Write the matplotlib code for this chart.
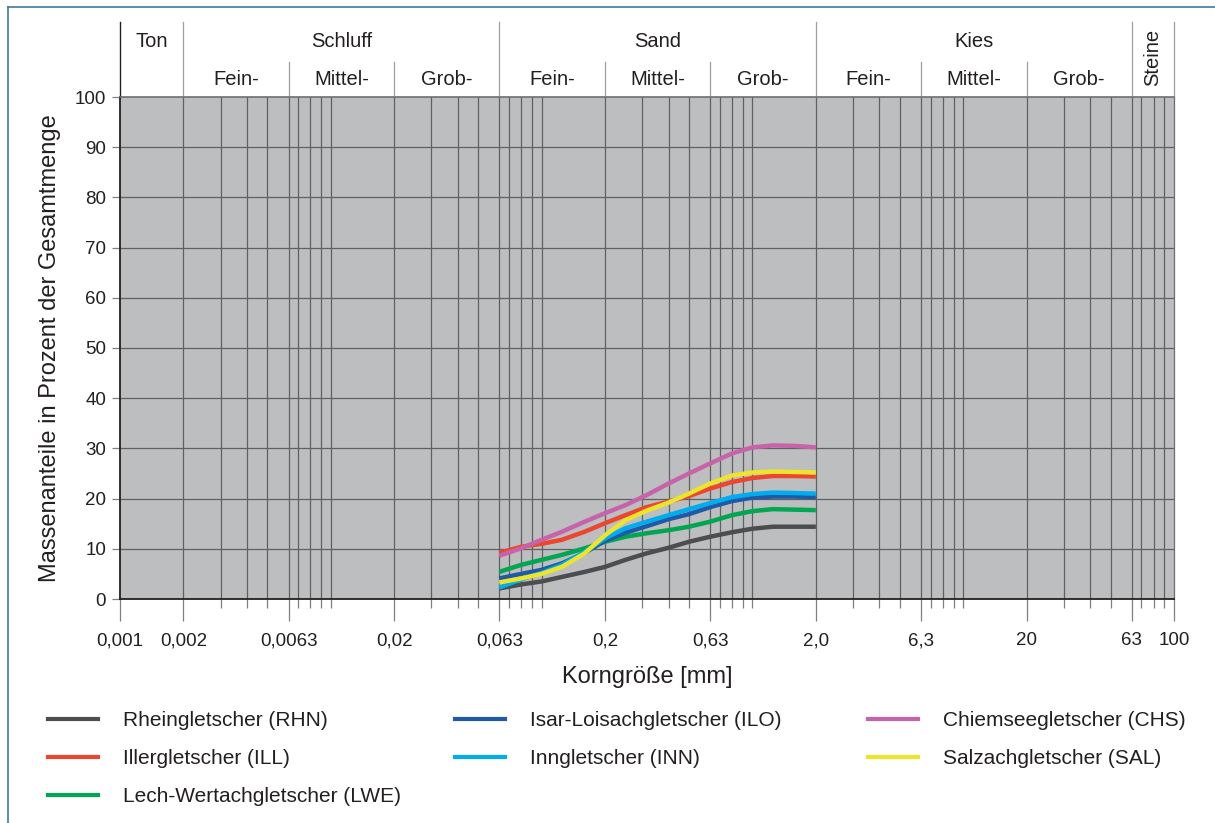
import matplotlib
matplotlib.use('Agg')
import matplotlib.pyplot as plt
from matplotlib.lines import Line2D
import matplotlib.transforms as mtransforms

plt.rcParams['font.family'] = ['Liberation Sans', 'DejaVu Sans']

# Sieve sizes [mm] and cumulative mass fractions [%]
korn = [0.063, 0.08, 0.1, 0.125, 0.16, 0.2, 0.25, 0.315, 0.4, 0.5, 0.63, 0.8, 1.0, 1.25, 1.6, 2.0]

rhn = [2.1, 2.9, 3.5, 4.4, 5.4, 6.4, 7.8, 9.1, 10.2, 11.4, 12.4, 13.3, 14.0, 14.4, 14.4, 14.4]
ill = [9.2, 10.4, 11.0, 11.8, 13.4, 15.1, 16.7, 18.3, 19.4, 20.5, 22.0, 23.3, 24.1, 24.5, 24.5, 24.4]
lwe = [5.4, 6.8, 7.8, 8.8, 10.1, 11.4, 12.4, 13.1, 13.7, 14.4, 15.4, 16.7, 17.5, 17.9, 17.8, 17.7]
ilo = [4.1, 5.0, 5.8, 7.1, 9.2, 11.6, 13.2, 14.5, 15.9, 16.9, 18.3, 19.5, 20.2, 20.4, 20.4, 20.3]
inn = [2.3, 3.9, 5.2, 6.8, 9.4, 12.1, 14.1, 15.4, 16.7, 17.9, 19.1, 20.3, 20.9, 21.2, 21.1, 21.0]
chs = [8.6, 10.1, 11.8, 13.4, 15.4, 17.1, 18.7, 20.7, 23.0, 25.0, 27.0, 29.0, 30.2, 30.6, 30.5, 30.2]
sal = [3.3, 4.1, 5.0, 6.4, 9.1, 12.7, 15.7, 17.6, 19.2, 21.0, 23.0, 24.6, 25.2, 25.4, 25.3, 25.2]

namen = ['Rheingletscher (RHN)', 'Illergletscher (ILL)', 'Lech-Wertachgletscher (LWE)',
         'Isar-Loisachgletscher (ILO)', 'Inngletscher (INN)',
         'Chiemseegletscher (CHS)', 'Salzachgletscher (SAL)']
farben = ['#4d4d4f', '#ec4630', '#00a651', '#1f5aa6', '#00aeef', '#c863aa', '#ece52c']
reihen = [rhn, ill, lwe, ilo, inn, chs, sal]
# drawing order (later on top)
zeichen_folge = [0, 2, 3, 4, 1, 5, 6]

# x axis labels and grid
x_major = [0.001, 0.002, 0.0063, 0.02, 0.063, 0.2, 0.63, 2.0, 6.3, 20, 63, 100]
x_major_labels = ['0,001', '0,002', '0,0063', '0,02', '0,063', '0,2', '0,63', '2,0', '6,3', '20', '63', '100']
x_minor = [0.003, 0.004, 0.005, 0.007, 0.008, 0.009, 0.01,
           0.03, 0.04, 0.05, 0.07, 0.08, 0.09, 0.1,
           0.3, 0.4, 0.5, 0.7, 0.8, 0.9, 1.0,
           3, 4, 5, 7, 8, 9, 10,
           30, 40, 50, 70, 80, 90]

# soil classes (header)
haupt_grenzen = [0.001, 0.002, 0.063, 2.0, 63, 100]
haupt_namen = ['Ton', 'Schluff', 'Sand', 'Kies', 'Steine']
unter_grenzen = [0.0063, 0.02, 0.2, 0.63, 6.3, 20]
unter_namen = ['Fein-', 'Mittel-', 'Grob-']

fig = plt.figure(figsize=(12.15, 8.23), dpi=100)
ax = fig.add_axes([120 / 1215, 224 / 823, 1054 / 1215, 502 / 823])
ax.set_facecolor('#bcbec0')
ax.set_xscale('log')
ax.set_xlim(0.001, 100)
ax.set_ylim(0, 100)

grid_col = '#5f6062'
for xv in x_major[1:-1] + x_minor:
    ax.axvline(xv, color=grid_col, lw=0.9, zorder=1)
for yv in range(10, 100, 10):
    ax.axhline(yv, color=grid_col, lw=0.9, zorder=1)

for i in zeichen_folge:
    ax.plot(korn, reihen[i], color=farben[i], lw=3.2, zorder=3,
            solid_capstyle='butt', solid_joinstyle='round')

ax.set_xticks(x_major)
ax.set_xticklabels(x_major_labels)
ax.set_xticks(x_minor, minor=True)
ax.xaxis.set_minor_formatter(plt.NullFormatter())
ax.tick_params(axis='x', which='major', length=16, width=0.9, color='#808080',
               labelsize=13.5, pad=8, labelcolor='#231f20')
ax.tick_params(axis='x', which='minor', length=6.5, width=0.9, color='#808080')
ax.set_yticks(range(0, 101, 10))
ax.tick_params(axis='y', length=6, width=0.9, color='#808080', labelsize=13.5,
               pad=4, labelcolor='#231f20')

for s in ['left', 'bottom']:
    ax.spines[s].set_color('#231f20')
    ax.spines[s].set_linewidth(1.3)
ax.spines['top'].set_color('#6d6e71')
ax.spines['top'].set_linewidth(1.2)
ax.spines['right'].set_color('#6d6e71')
ax.spines['right'].set_linewidth(0.9)

ax.set_xlabel('Korngröße [mm]', fontsize=17, color='#231f20', labelpad=12)
ax.set_ylabel('Massenanteile in Prozent der Gesamtmenge', fontsize=17,
              color='#231f20', labelpad=10)

# header with soil class names
trans = mtransforms.blended_transform_factory(ax.transData, ax.transAxes)
for xv in haupt_grenzen:
    c = '#231f20' if xv == 0.001 else '#9d9fa2'
    ax.plot([xv, xv], [1.0, 1.149], color=c, lw=1.0 if xv == 0.001 else 0.9,
            transform=trans, clip_on=False)
for xv in unter_grenzen:
    ax.plot([xv, xv], [1.0, 1.07], color='#9d9fa2', lw=0.9,
            transform=trans, clip_on=False)

for k in range(len(haupt_namen)):
    a, b = haupt_grenzen[k], haupt_grenzen[k + 1]
    xm = (a * b) ** 0.5
    if haupt_namen[k] == 'Steine':
        ax.text(xm, 1.078, haupt_namen[k], rotation=90, ha='center', va='center',
                fontsize=14.5, color='#231f20', transform=trans)
    else:
        ax.text(xm, 1.111, haupt_namen[k], ha='center', va='center',
                fontsize=14.5, color='#231f20', transform=trans)

for gruppe in [(0.002, 0.0063, 0.02, 0.063), (0.063, 0.2, 0.63, 2.0), (2.0, 6.3, 20, 63)]:
    for k in range(3):
        xm = (gruppe[k] * gruppe[k + 1]) ** 0.5
        ax.text(xm, 1.034, unter_namen[k], ha='center', va='center',
                fontsize=14.5, color='#231f20', transform=trans)

# legend in three columns
spalten = [[0, 1, 2], [3, 4], [5, 6]]
spalten_x = [48, 455, 868]
for sp, xs in zip(spalten, spalten_x):
    handles = [Line2D([], [], color=farben[i], lw=3) for i in sp]
    labels = [namen[i] for i in sp]
    leg = fig.legend(handles, labels, loc='upper left',
                     bbox_to_anchor=(xs / 1215, 1 - 711 / 823),
                     frameon=False, fontsize=15, handlelength=2.4,
                     handletextpad=1.2, labelspacing=0.92, borderpad=0,
                     borderaxespad=0)
    for t in leg.get_texts():
        t.set_color('#231f20')

# thin frame lines on the left and top
fig.add_artist(Line2D([8 / 1215, 8 / 1215], [0, 1 - 7 / 823], color='#3f7c97', lw=1.2))
fig.add_artist(Line2D([8 / 1215, 1], [1 - 7 / 823, 1 - 7 / 823], color='#3f7c97', lw=1.2))

fig.savefig('out.png', dpi=100, facecolor='white')
